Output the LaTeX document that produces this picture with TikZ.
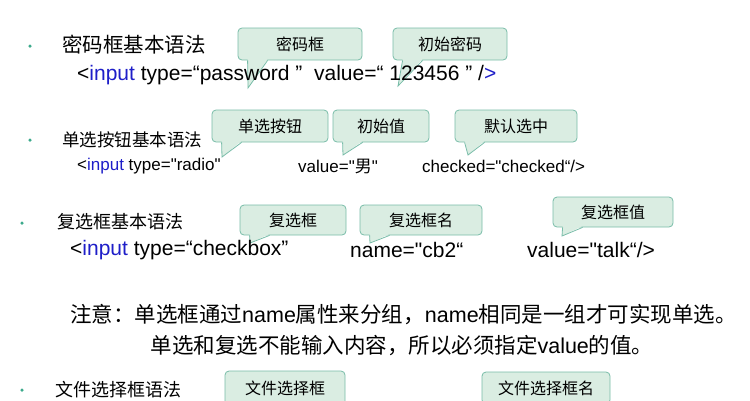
\documentclass[tikz,border=0pt]{standalone}
\usepackage{fontspec}
\setmainfont{Liberation Sans}[Ligatures=NoCommon]
\newfontfamily\cjk{Noto Sans CJK SC}
\newcommand{\zh}[1]{{\cjk #1}}
\newcommand{\q}{\textquotedbl}
\definecolor{tipfill}{RGB}{218,237,226}
\definecolor{tipline}{RGB}{120,188,168}
\definecolor{dotgreen}{RGB}{60,170,140}
\definecolor{kwblue}{RGB}{30,30,200}
\usetikzlibrary{positioning}
\tikzset{
  callout/.style={draw=tipline, fill=tipfill, rounded corners=4pt, line width=0.8pt,
    inner sep=0pt, font=\cjk\fontsize{16}{16}\selectfont},
  txt/.style={anchor=west, inner sep=0pt},
  dot/.style={circle, fill=dotgreen, inner sep=0pt, minimum size=3.5pt}
}
% callout: name, centre, width, height, tip, text
\newcommand{\callout}[6]{%
  \node[callout, minimum width=#3pt, minimum height=#4pt] (#1) at (#2) {#6};
  \fill[tipfill] ([xshift=10pt,yshift=1.5pt]#1.south west) -- (#5) -- ([xshift=30pt,yshift=1.5pt]#1.south west) -- cycle;
  \draw[tipline, line width=0.8pt] ([xshift=10pt]#1.south west) -- (#5) -- ([xshift=30pt]#1.south west);
}
\begin{document}
\begin{tikzpicture}[x=1pt,y=-1pt]
  \useasboundingbox (0,0) rectangle (750,400);
  % password
  \node[dot] (d1) at (30,46) {};
  \node[txt, font=\fontsize{20.5}{20}\selectfont] (t1) at (62,45) {\zh{密码框基本语法}};
  \coordinate (p1) at (248,88);
  \coordinate (p2) at (398,86);
  \callout{pw}{300,44}{124}{32}{p1}{密码框}
  \callout{pwv}{450,44}{114}{32}{p2}{初始密码}
  \node[txt, font=\fontsize{21}{21}\selectfont] (c1) at (77,75)
    {<\textcolor{kwblue}{input} type=“password ” \ value=“ 123456 ” /\textcolor{kwblue}{>}};
  % radio
  \node[dot] (d2) at (30,140) {};
  \node[txt, font=\fontsize{17.5}{17}\selectfont] (t2) at (62,140) {\zh{单选按钮基本语法}};
  \coordinate (p3) at (222,157);
  \coordinate (p4) at (343,155);
  \coordinate (p5) at (468,155);
  \callout{rb}{270,126}{116}{32}{p3}{单选按钮}
  \callout{rbv}{381,126}{96}{32}{p4}{初始值}
  \callout{rbc}{516,126}{122}{32}{p5}{默认选中}
  \node[txt, font=\fontsize{17}{17}\selectfont] (c2a) at (77,166) {<\textcolor{kwblue}{input} type=\q radio\q};
  \node[txt, font=\fontsize{17}{17}\selectfont] (c2b) at (298,166) {value=\q\zh{男}\q};
  \node[txt, font=\fontsize{17}{17}\selectfont] (c2c) at (422,166) {checked=\q checked“/>};
  % checkbox
  \node[dot] (d3) at (22,223) {};
  \node[txt, font=\fontsize{18}{18}\selectfont] (t3) at (57,222) {\zh{复选框基本语法}};
  \coordinate (p6) at (250,243);
  \coordinate (p7) at (370,243);
  \coordinate (p8) at (562,236);
  \callout{cb}{293,220}{106}{30}{p6}{复选框}
  \callout{cbn}{421,220}{122}{30}{p7}{复选框名}
  \callout{cbv}{613,212}{120}{30}{p8}{复选框值}
  \node[txt, font=\fontsize{21}{21}\selectfont] (c3a) at (70,250) {<\textcolor{kwblue}{input} type=“checkbox”};
  \node[txt, font=\fontsize{21}{21}\selectfont] (c3b) at (350,250) {name=\q cb2“};
  \node[txt, font=\fontsize{21}{21}\selectfont] (c3c) at (527,250) {value=\q talk“/>};
  % note
  \node[txt, font=\fontsize{21.5}{21}\selectfont] (n1) at (70,315)
    {\zh{注意：单选框通过}name\zh{属性来分组，}name\zh{相同是一组才可实现单选。}};
  \node[font=\fontsize{21.5}{21}\selectfont, inner sep=0pt] (n2) at (402,346)
    {\zh{单选和复选不能输入内容，所以必须指定}value\zh{的值。}};
  % file
  \node[dot] (d4) at (22,390) {};
  \node[txt, font=\fontsize{18}{18}\selectfont] (t4) at (55,390) {\zh{文件选择框语法}};
  \node[callout, minimum width=120pt, minimum height=34pt] (fs) at (285,388) {文件选择框};
  \node[callout, minimum width=128pt, minimum height=32pt] (fsn) at (546,388) {文件选择框名};
\end{tikzpicture}
\end{document}
